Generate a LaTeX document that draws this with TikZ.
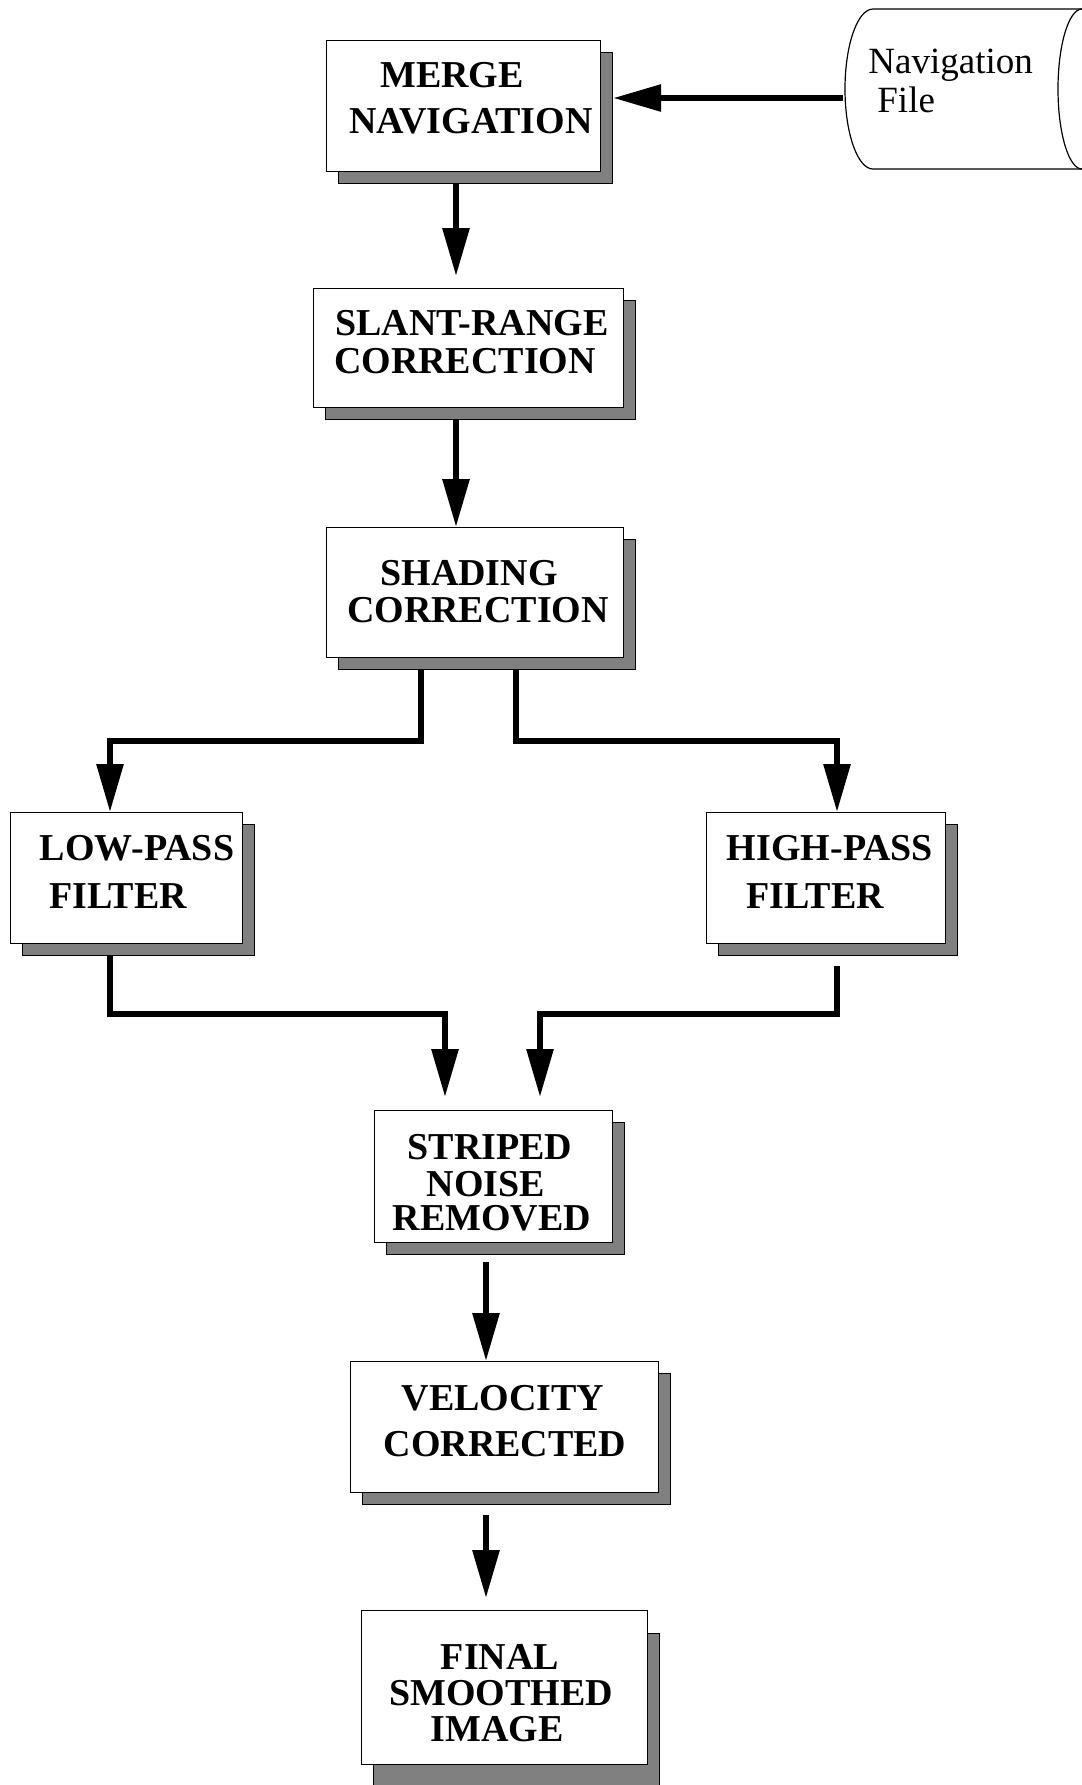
\documentclass[tikz,border=0pt]{standalone}
\usepackage{fontspec}
\setmainfont{Liberation Serif}
\usetikzlibrary{arrows.meta}
\definecolor{shadowgray}{RGB}{128,128,128}
\newcommand\flowbox[6]{%
  \node[shadowbox, minimum width={(#4-#2)*0.5pt}, minimum height={(#5-#3)*0.5pt}] (#1-sh) at (#2+12,#3+#6) {};
  \node[whitebox, minimum width={(#4-#2)*0.5pt}, minimum height={(#5-#3)*0.5pt}] (#1) at (#2,#3) {};}
\begin{document}
\begin{tikzpicture}[x=0.5pt,y=-0.5pt,
  whitebox/.style={draw=black, line width=0.6pt, fill=white, inner sep=0pt, anchor=north west},
  shadowbox/.style={draw=black, line width=0.6pt, fill=shadowgray, inner sep=0pt, anchor=north west},
  lbl/.style={font=\bfseries\fontsize{19}{20}\selectfont, anchor=base, inner sep=0pt},
  navlbl/.style={font=\fontsize{18.5}{20}\selectfont, anchor=base west, inner sep=0pt},
  flow/.style={line width=3pt, -{Triangle[length=24pt,width=13pt]}},
  thinline/.style={line width=0.6pt}]
\useasboundingbox (0,0) rectangle (1082,1785);
\begin{scope}
\clip (0,0) rectangle (1082,1785);

% Navigation file cylinder
\draw[thinline] (1110,9) -- (873,9) arc[start angle=90, end angle=270, x radius=14pt, y radius=40pt] -- (1110,169);
\draw[thinline] (1082,89) ellipse [x radius=12pt, y radius=40pt];
\node[navlbl] (nav1) at (868,73) {Navigation};
\node[navlbl] (nav2) at (877,112) {File};

% boxes
\flowbox{merge}{326}{40}{600}{171}{12}
\flowbox{slant}{313}{288}{623}{407}{12}
\flowbox{shading}{326}{527}{623}{657}{12}
\flowbox{low}{10}{812}{242}{943}{12}
\flowbox{high}{706}{812}{945}{943}{12}
\flowbox{striped}{374}{1110}{612}{1242}{12}
\flowbox{velocity}{350}{1361}{658}{1492}{12}
\flowbox{final}{361}{1610}{647}{1764}{23}

% labels
\node[lbl] (merge1) at (452,87) {MERGE};
\node[lbl] (merge2) at (471,133) {NAVIGATION};
\node[lbl] (slant1) at (472,335) {SLANT-RANGE};
\node[lbl] (slant2) at (465,373) {CORRECTION};
\node[lbl] (shading1) at (469,585) {SHADING};
\node[lbl] (shading2) at (478,622) {CORRECTION};
\node[lbl] (low1) at (137,860) {LOW-PASS};
\node[lbl] (low2) at (118,908) {FILTER};
\node[lbl] (high1) at (830,860) {HIGH-PASS};
\node[lbl] (high2) at (815,908) {FILTER};
\node[lbl] (striped1) at (490,1159) {STRIPED};
\node[lbl] (striped2) at (486,1196) {NOISE};
\node[lbl] (striped3) at (492,1230) {REMOVED};
\node[lbl] (velocity1) at (503,1410) {VELOCITY};
\node[lbl] (velocity2) at (505,1456) {CORRECTED};
\node[lbl] (final1) at (500,1669) {FINAL};
\node[lbl] (final2) at (501,1705) {SMOOTHED};
\node[lbl] (final3) at (497,1741) {IMAGE};

% connector coordinates
\coordinate (navout) at (843,98);
\coordinate (colA) at (456,0);
\coordinate (mergetip) at (456,276);
\coordinate (brL) at (421,741);
\coordinate (brR) at (516,741);
\coordinate (lowin) at (110,741);
\coordinate (highin) at (837,741);
\coordinate (lowout) at (110,1014);
\coordinate (hiout) at (837,966);
\coordinate (hiturn) at (837,1014);
\coordinate (stL) at (445,1014);
\coordinate (stR) at (540,1014);
\coordinate (stLtip) at (445,1097);
\coordinate (stRtip) at (540,1097);
\coordinate (velout) at (486,1262);
\coordinate (finout) at (486,1515);
\coordinate (fintip) at (486,1598);

% connectors
\draw[flow] (navout) -- (merge-sh.east |- navout);
\draw[flow] (merge-sh.south -| colA) -- (mergetip);
\draw[flow] (slant-sh.south -| colA) -- (shading.north -| colA);
\draw[flow] (shading-sh.south -| brL) -- (brL) -- (lowin) -- (low.north -| lowin);
\draw[flow] (shading-sh.south -| brR) -- (brR) -- (highin) -- (high.north -| highin);
\draw[flow] (low-sh.south -| lowout) -- (lowout) -- (stL) -- (stLtip);
\draw[flow] (hiout) -- (hiturn) -- (stR) -- (stRtip);
\draw[flow] (velout) -- (velocity.north -| velout);
\draw[flow] (finout) -- (fintip);
\end{scope}
\end{tikzpicture}
\end{document}
